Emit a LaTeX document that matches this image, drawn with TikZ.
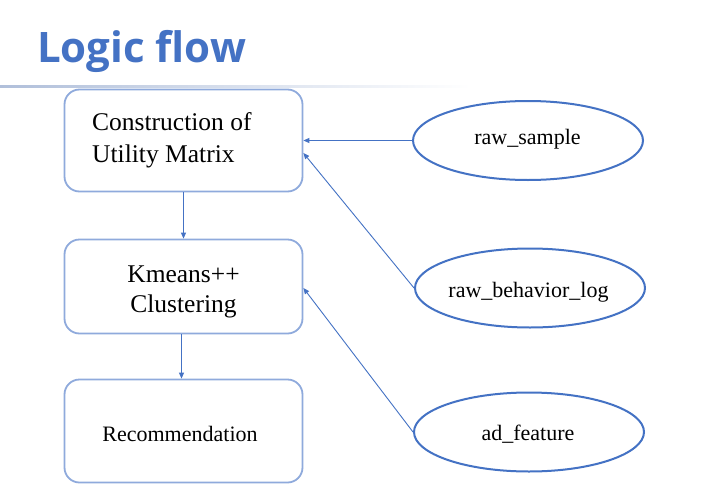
\documentclass[tikz,border=0pt]{standalone}
\usepackage{fontspec}
\setmainfont{Liberation Serif}
\newfontfamily\titlefont{Open Sans}
\usetikzlibrary{arrows.meta,shapes.geometric}
\definecolor{accent}{HTML}{4472C4}
\definecolor{boxline}{HTML}{8FAADC}
\definecolor{rulecol}{HTML}{B0BFDA}
\begin{document}
\begin{tikzpicture}[x=1pt,y=-1pt,
  box/.style={draw=boxline, line width=1.8pt, rounded corners=15pt, minimum width=238pt, inner sep=0pt},
  oval/.style={ellipse, draw=accent, line width=2pt, minimum width=230pt, minimum height=79pt, inner sep=0pt},
  big/.style={font=\fontsize{25.5}{30}\selectfont, inner sep=0pt},
  small/.style={font=\fontsize{22}{26}\selectfont, inner sep=0pt},
  flow/.style={draw=accent, line width=0.9pt, -{Triangle[length=6pt,width=5pt]}}]
\useasboundingbox (0,0) rectangle (720,498);
\fill[white] (0,0) rectangle (720,498);
\node[anchor=base west, text=accent, font=\titlefont\bfseries\fontsize{42}{48}\selectfont, inner sep=0pt] (title) at (37,62) {Logic flow};
\shade[left color=rulecol, right color=white] (0,85) rectangle (470,87.5);
% boxes
\node[box, minimum height=102pt] (b1) at (183.5,140.5) {};
\node[box, minimum height=94pt] (b2) at (183.5,286.5) {};
\node[box, minimum height=103pt] (b3) at (183.5,431) {};
\node[big, anchor=base west] (t1a) at (92,130) {Construction of};
\node[big, anchor=base west] (t1b) at (92,162) {Utility Matrix};
\node[big, anchor=base] (t2a) at (183.5,282) {Kmeans++};
\node[big, anchor=base] (t2b) at (183.5,312) {Clustering};
\node[small, anchor=base] (t3) at (180,441) {Recommendation};
% ellipses
\node[oval] (e1) at (528,140.5) {};
\node[oval] (e2) at (530,288) {};
\node[oval] (e3) at (529,432) {};
\node[small, anchor=base] (l1) at (527.5,144) {raw\_sample};
\node[small, anchor=base] (l2) at (528.5,297) {raw\_behavior\_log};
\node[small, anchor=base] (l3) at (528,440) {ad\_feature};
% connectors
\draw[flow] (e1.west) -- (b1.east);
\draw[flow] (e2.west) -- ([yshift=-12.5pt]b1.east);
\draw[flow] (e3.west) -- ([yshift=-1.5pt]b2.east);
\draw[flow] (b1.south) -- (b2.north);
\draw[flow] ([xshift=-2pt]b2.south) -- ([xshift=-2pt]b3.north);
\end{tikzpicture}
\end{document}
